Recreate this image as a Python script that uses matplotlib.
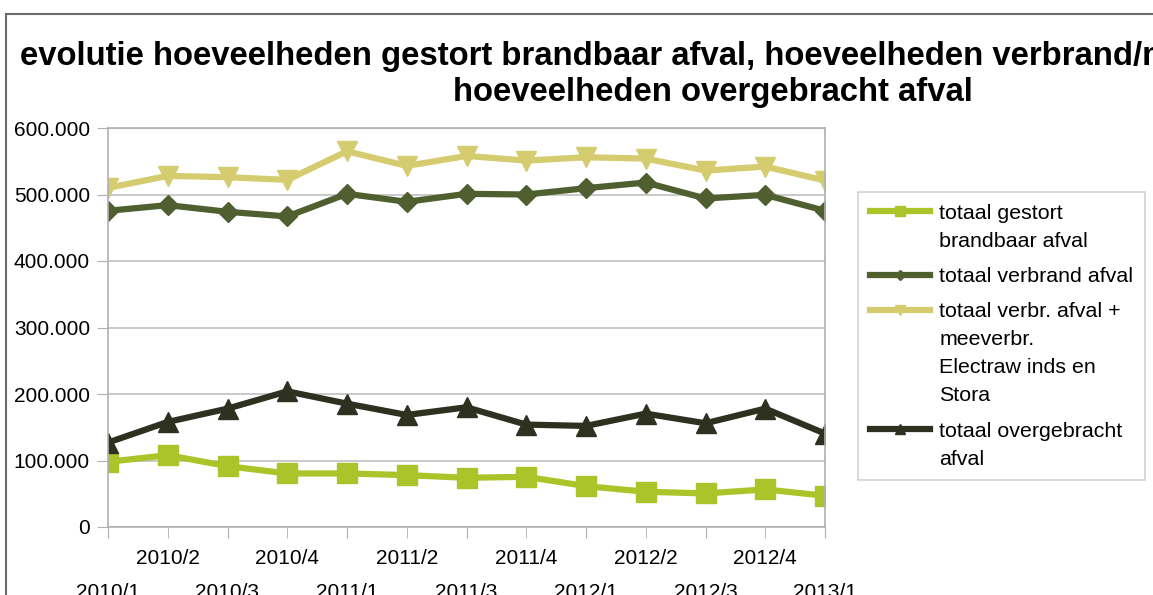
import matplotlib
matplotlib.use('Agg')
import matplotlib.pyplot as plt
from matplotlib.patches import Rectangle
from matplotlib.ticker import FuncFormatter

plt.rcParams['font.family'] = ['Liberation Sans', 'DejaVu Sans']

periods = ['2010/1', '2010/2', '2010/3', '2010/4', '2011/1', '2011/2', '2011/3',
           '2011/4', '2012/1', '2012/2', '2012/3', '2012/4', '2013/1']

gestort = [98000, 108000, 91500, 80500, 80500, 78000, 74000, 75500, 61500, 53000, 50500, 56500, 47000]
verbrand = [475500, 484000, 474000, 467000, 501000, 489000, 501000, 500000, 509500, 518000, 494000, 499500, 475500]
verbr_mee = [510000, 528000, 526000, 522000, 565000, 543000, 558000, 551000, 556000, 554000, 536000, 542000, 521000]
overgebracht = [127000, 158000, 178000, 204000, 185500, 168500, 180000, 154000, 152000, 170500, 156000, 178000, 140500]

labels = ['totaal gestort\nbrandbaar afval',
          'totaal verbrand afval',
          'totaal verbr. afval +\nmeeverbr.\nElectraw inds en\nStora',
          'totaal overgebracht\nafval']

W, H = 1153, 595
fig = plt.figure(figsize=(W / 100, H / 100), dpi=100)
ax = fig.add_axes([108 / W, 1 - 527 / H, (825 - 108) / W, (527 - 128) / H])

x = list(range(len(periods)))
ax.plot(x, gestort, color='#abc42a', lw=4.5, marker='s', ms=14, label=labels[0])
ax.plot(x, verbrand, color='#505f30', lw=4.5, marker='D', ms=10, label=labels[1])
ax.plot(x, verbr_mee, color='#d5cc70', lw=4.5, marker='v', ms=14, label=labels[2])
ax.plot(x, overgebracht, color='#2f3120', lw=4.5, marker='^', ms=14, label=labels[3])

ax.set_xlim(0, 12)
ax.set_ylim(0, 600000)
ax.set_yticks(range(0, 600001, 100000))
ax.yaxis.set_major_formatter(FuncFormatter(lambda v, p: f'{int(v):,}'.replace(',', '.')))
ax.grid(axis='y', color='#c0c0c0', lw=1.2)
ax.set_axisbelow(True)

# staggered category labels
ax.set_xticks(x[0::2], labels=periods[0::2])
ax.set_xticks(x[1::2], labels=periods[1::2], minor=True)
ax.tick_params(axis='x', which='both', length=8, color='#b0b0b0', labelsize=15)
ax.tick_params(axis='x', which='major', pad=32)
ax.tick_params(axis='x', which='minor', pad=8)
ax.tick_params(axis='y', length=8, color='#b0b0b0', labelsize=15, pad=5)

for s in ['left', 'bottom', 'right', 'top']:
    ax.spines[s].set_color('#b0b0b0')
    ax.spines[s].set_linewidth(1.2)

leg = fig.legend(loc='upper left', bbox_to_anchor=(858 / W, 1 - 192 / H), fontsize=15.4,
                 frameon=True, fancybox=False, edgecolor='#c8c8c8', handlelength=2.8,
                 markerscale=0.5, labelspacing=0.76, borderpad=0.55, handletextpad=0.45,
                 borderaxespad=0)
leg.get_frame().set_linewidth(1.2)
for t in leg.get_texts():
    t.set_linespacing(1.6)
# put the handle next to the first line of a wrapped label
for col in leg._legend_handle_box.get_children():
    for row in col.get_children():
        row.align = 'top'

fig.text(20 / W, 1 - 65 / H, 'evolutie hoeveelheden gestort brandbaar afval, hoeveelheden verbrand/meeverbrand',
         ha='left', va='baseline', fontsize=23.7, fontweight='bold')
fig.text(713 / W, 1 - 101 / H, 'hoeveelheden overgebracht afval',
         ha='center', va='baseline', fontsize=23.7, fontweight='bold')

fig.patches.append(Rectangle((6 / W, -0.1), 1.2, 1.1 - 14 / H, transform=fig.transFigure,
                             fill=False, edgecolor='#6a6a6a', lw=1.5))

fig.savefig('out.png', dpi=100)
